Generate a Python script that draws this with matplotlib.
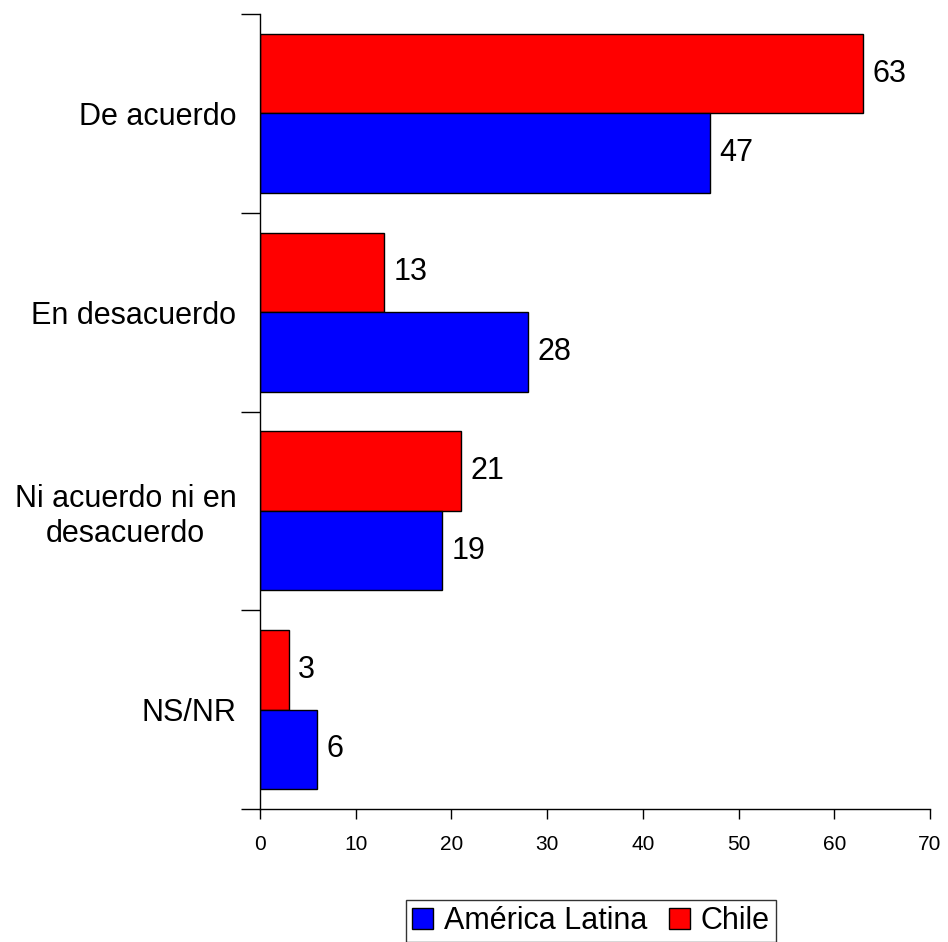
import matplotlib
matplotlib.use("Agg")
import matplotlib.pyplot as plt
import numpy as np

# Datos del gráfico
categorias = ["De acuerdo", "En desacuerdo", "Ni acuerdo ni en\ndesacuerdo", "NS/NR"]
chile = [63, 13, 21, 3]
america_latina = [47, 28, 19, 6]
ticks_x = [0, 10, 20, 30, 40, 50, 60, 70]

plt.rcParams["font.family"] = ["Liberation Sans", "DejaVu Sans"]

fig = plt.figure(figsize=(9.48, 9.42), dpi=100)
ax = fig.add_axes([260 / 948, 1 - 809 / 942, 670 / 948, 795 / 942])

pos = np.arange(len(categorias))
h = 0.4

# Barras: Chile arriba, América Latina abajo
b_chile = ax.barh(pos - h / 2, chile, height=h, color="#FF0000",
                  edgecolor="black", linewidth=1, label="Chile")
b_al = ax.barh(pos + h / 2, america_latina, height=h, color="#0000FF",
               edgecolor="black", linewidth=1, label="América Latina")

# Etiquetas de valores
for barras in (b_chile, b_al):
    for b in barras:
        w = b.get_width()
        ax.text(w + 1.0, b.get_y() + b.get_height() / 2, f"{w:g}",
                va="center", ha="left", fontsize=22)

ax.set_xlim(0, 70)
ax.set_ylim(len(categorias) - 0.5, -0.5)
ax.set_xticks(ticks_x)
ax.tick_params(axis="x", labelsize=15, direction="out", length=7, width=1, pad=12)

# Marcas del eje y en los límites de categoría, etiquetas en el centro
ax.set_yticks(np.arange(len(categorias) + 1) - 0.5)
ax.set_yticklabels([])
ax.tick_params(axis="y", which="major", direction="out", length=14, width=1)
ax.set_yticks(pos, minor=True)
ax.set_yticklabels(categorias, minor=True, fontsize=22, multialignment="center")
ax.tick_params(axis="y", which="minor", length=0, pad=17)

for s in ("top", "right"):
    ax.spines[s].set_visible(False)
for s in ("left", "bottom"):
    ax.spines[s].set_linewidth(1)

handles = [b_al, b_chile]
leg = fig.legend(handles, ["América Latina", "Chile"], loc="center",
                 bbox_to_anchor=(591 / 948, 1 - 921 / 942), ncol=2,
                 fontsize=22, frameon=True, fancybox=False, edgecolor="black",
                 handlelength=0.7, handleheight=0.7, handletextpad=0.35,
                 columnspacing=0.7, borderpad=0.2, borderaxespad=0)
leg.get_frame().set_linewidth(1)

fig.savefig("out.png", dpi=100)
